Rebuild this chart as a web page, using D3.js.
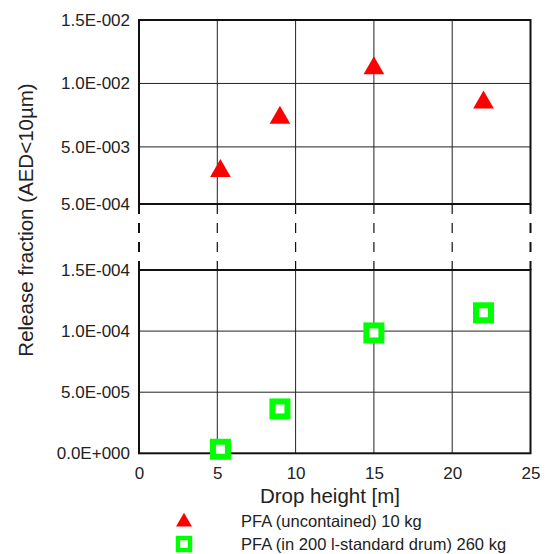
<!DOCTYPE html>
<html>
<head>
<meta charset="utf-8">
<script src="https://cdn.jsdelivr.net/npm/d3@7"></script>
<style>
  body { margin: 0; background: #fff; }
  svg text { font-family: "Liberation Sans", Arial, sans-serif; fill: #222; }
</style>
</head>
<body>
<div id="chart"></div>
<script>
// data
const dropHeight = [5.2, 9, 15, 22];
const uncontained = [0.0031, 0.0073, 0.0112, 0.0085];   // upper panel, triangles
const inDrum = [0.0000033, 0.0000363, 0.0000985, 0.000115]; // lower panel, squares

const xTicks = [0, 5, 10, 15, 20, 25];
const topTicks = [0.0005, 0.005, 0.01, 0.015];
const topTickLabels = ["5.0E-004", "5.0E-003", "1.0E-002", "1.5E-002"];
const botTicks = [0, 0.00005, 0.0001, 0.00015];
const botTickLabels = ["0.0E+000", "5.0E-005", "1.0E-004", "1.5E-004"];
const legendLabels = ["PFA (uncontained) 10 kg", "PFA (in 200 l-standard drum) 260 kg"];

const W = 547, H = 554;
const left = 139, right = 530.5;
const topY0 = 20, topY1 = 204;     // upper panel
const botY0 = 270, botY1 = 453.3;  // lower panel

const svg = d3.select("#chart")
    .append("svg")
    .attr("width", W)
    .attr("height", H);

const x = d3.scaleLinear().domain([0, 25]).range([left, right]);
const yTop = d3.scaleLinear().domain([0.0005, 0.015]).range([topY1, topY0]);
const yBot = d3.scaleLinear().domain([0, 0.00015]).range([botY1, botY0]);

// grid lines + frame for one panel
function drawGrid(yScale, ticks, y0, y1) {
    const g = svg.append("g");
    g.selectAll(".vgrid")
        .data(xTicks.slice(1, -1))
        .enter()
        .append("line")
        .attr("x1", d => x(d)).attr("x2", d => x(d))
        .attr("y1", y0).attr("y2", y1)
        .style("stroke", "#222")
        .style("stroke-width", 1);
    g.selectAll(".hgrid")
        .data(ticks.slice(1, -1))
        .enter()
        .append("line")
        .attr("x1", left).attr("x2", right)
        .attr("y1", d => yScale(d)).attr("y2", d => yScale(d))
        .style("stroke", "#222")
        .style("stroke-width", 1);
    g.append("rect")
        .attr("x", left).attr("y", y0)
        .attr("width", right - left).attr("height", y1 - y0)
        .style("fill", "none")
        .style("stroke", "#111")
        .style("stroke-width", 2);
}
drawGrid(yTop, topTicks, topY0, topY1);
drawGrid(yBot, botTicks, botY0, botY1);

// axis break: dashed verticals
svg.append("g")
    .selectAll("line")
    .data(xTicks)
    .enter()
    .append("line")
    .attr("x1", d => x(d)).attr("x2", d => x(d))
    .attr("y1", topY1).attr("y2", botY0)
    .style("stroke", "#111")
    .style("stroke-width", d => (d === 0 || d === 25) ? 2 : 1.2)
    .style("stroke-dasharray", "10,9");

// y axes, labels only
function yLabels(yScale, ticks, labels) {
    svg.append("g")
        .attr("transform", `translate(${left},0)`)
        .call(d3.axisLeft(yScale)
            .tickValues(ticks)
            .tickFormat((d, i) => labels[i])
            .tickSize(0)
            .tickPadding(9))
        .call(g => g.select(".domain").remove())
        .selectAll("text")
        .style("font-size", "17px")
        .style("font-family", "'Liberation Sans', Arial, sans-serif")
        .style("fill", "#222");
}
yLabels(yTop, topTicks, topTickLabels);
yLabels(yBot, botTicks, botTickLabels);

// x axis labels
svg.append("g")
    .attr("transform", `translate(0,${botY1})`)
    .call(d3.axisBottom(x)
        .tickValues(xTicks)
        .tickFormat(d3.format("d"))
        .tickSize(0)
        .tickPadding(14))
    .call(g => g.select(".domain").remove())
    .selectAll("text")
    .style("font-size", "17px")
    .style("font-family", "'Liberation Sans', Arial, sans-serif")
    .style("fill", "#222");

// titles
svg.append("text")
    .text("Drop height [m]")
    .attr("x", 330)
    .attr("y", 503)
    .style("text-anchor", "middle")
    .style("font-size", "20.5px");

svg.append("text")
    .text("Release fraction (AED<10µm)")
    .attr("transform", "translate(33,220) rotate(-90)")
    .style("text-anchor", "middle")
    .style("font-size", "20.5px");

// markers
const tri = d3.symbol().type(d3.symbolTriangle).size(185);
svg.append("g")
    .selectAll("path")
    .data(dropHeight)
    .enter()
    .append("path")
    .attr("d", tri)
    .attr("transform", (d, i) => `translate(${x(d)},${yTop(uncontained[i])})`)
    .style("fill", "#ff0000");

const sq = 15;
svg.append("g")
    .selectAll("rect")
    .data(dropHeight)
    .enter()
    .append("rect")
    .attr("x", d => x(d) - sq / 2)
    .attr("y", (d, i) => yBot(inDrum[i]) - sq / 2)
    .attr("width", sq)
    .attr("height", sq)
    .style("fill", "#fff")
    .style("stroke", "#00ff00")
    .style("stroke-width", 6);

// legend
const legend = svg.append("g").attr("transform", "translate(184,0)");
legend.append("path")
    .attr("d", d3.symbol().type(d3.symbolTriangle).size(110))
    .attr("transform", "translate(0,522)")
    .style("fill", "#ff0000");
legend.append("rect")
    .attr("x", -6).attr("y", 538)
    .attr("width", 12).attr("height", 12)
    .style("fill", "#fff")
    .style("stroke", "#00ff00")
    .style("stroke-width", 4.5);
legend.selectAll("text")
    .data(legendLabels)
    .enter()
    .append("text")
    .text(d => d)
    .attr("x", 57)
    .attr("y", (d, i) => 527 + i * 23)
    .style("font-size", "16.5px");
</script>
</body>
</html>
